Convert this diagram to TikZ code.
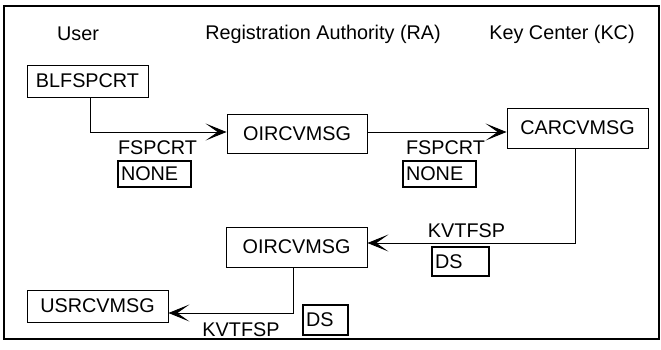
\documentclass[tikz,border=0pt]{standalone}
\usepackage{fontspec}
\setmainfont{Liberation Sans}
\usetikzlibrary{arrows.meta,calc}
\begin{document}
\begin{tikzpicture}[x=1pt,y=-1pt,
  font=\fontsize{19.8}{22}\selectfont,
  every node/.style={inner sep=0pt},
  procbox/.style={draw,line width=0.9pt,minimum height=#1},
  procbox/.default=32,
  tagbox/.style={draw,line width=1.4pt,inner xsep=3pt,align=left},
  flow/.style={line width=0.9pt,-{Stealth[length=21pt,width=17pt,inset=12pt]}}]
\useasboundingbox (0,0) rectangle (661,349);
% outer frame
\draw[line width=1.6pt] (4,6) rectangle (659,339);
\draw[line width=1.2pt] (4.5,6) -- (4.5,339);
% column headings
\node (hu) at (78,34) {User};
\node (hra) at (323,34) {Registration Authority (RA)};
\node (hkc) at (562,34) {Key Center (KC)};
% processing steps
\node[procbox=32,minimum width=121] (bl) at (87.5,81) {BLFSPCRT};
\node[procbox=39,minimum width=140] (ra1) at (297,133.5) {OIRCVMSG};
\node[procbox=40,minimum width=141] (kc) at (577.5,128) {CARCVMSG};
\node[procbox=40,minimum width=141] (ra2) at (296.5,247) {OIRCVMSG};
\node[procbox=32,minimum width=141] (us) at (97.5,306) {USRCVMSG};
% message labels and their protection tags
\node (m1) at (157.5,148) {FSPCRT};
\node[tagbox,text width=67,minimum height=26] (t1) at (154.5,174) {NONE};
\node (m2) at (445.5,148) {FSPCRT};
\node[tagbox,text width=67,minimum height=26] (t2) at (439.5,174) {NONE};
\node (m3) at (466.5,231) {KVTFSP};
\node[tagbox,text width=51,minimum height=29] (t3) at (460.5,261.5) {DS};
\node (m4) at (241,330) {KVTFSP};
\node[tagbox,text width=39,minimum height=30] (t4) at (325.5,320) {DS};
% message flow
\draw[flow] (bl.south -| 90,0) |- (ra1.west |- 0,132);
\draw[flow] (ra1.east |- 0,132) -- (kc.west |- 0,132);
\draw[flow] (kc.south -| 575,0) |- (ra2.east |- 0,243);
\draw[flow] (ra2.south -| 293,0) |- (us.east |- 0,313);
\end{tikzpicture}
\end{document}
